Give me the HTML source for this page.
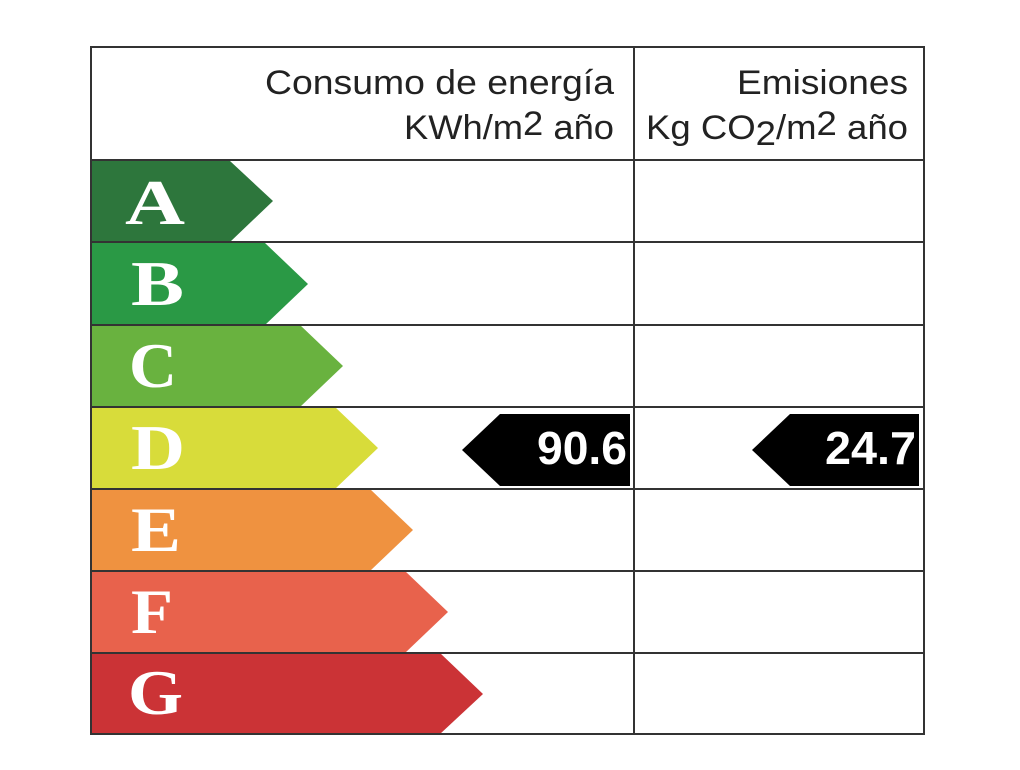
<!DOCTYPE html>
<html><head><style>
body{margin:0;background:#fff;width:1020px;height:765px;overflow:hidden}
</style></head><body>
<svg width="1020" height="765" xmlns="http://www.w3.org/2000/svg">
<rect width="1020" height="765" fill="#fff"/>
<g font-family="Liberation Serif, serif" font-weight="bold" font-size="64" fill="#fff" lengthAdjust="spacingAndGlyphs">
<polygon points="91,161 230,161 273,201 230,242 91,242" fill="#2d763c"/>
<polygon points="91,243 265,243 308,284 265,325 91,325" fill="#2a9945"/>
<polygon points="91,325 300,325 343,366 300,407 91,407" fill="#69b23f"/>
<polygon points="91,407 335,407 378,448 335,489 91,489" fill="#d8dc3a"/>
<polygon points="91,489 370,489 413,530 370,571 91,571" fill="#ef9240"/>
<polygon points="91,571 405,571 448,612 405,653 91,653" fill="#e8624c"/>
<polygon points="91,653 440,653 483,694 440,734 91,734" fill="#cb3336"/>
<text x="125" y="224" textLength="60" lengthAdjust="spacingAndGlyphs">A</text>
<text x="131" y="305" textLength="53" lengthAdjust="spacingAndGlyphs">B</text>
<text x="129" y="387" textLength="48" lengthAdjust="spacingAndGlyphs">C</text>
<text x="131" y="469" textLength="54" lengthAdjust="spacingAndGlyphs">D</text>
<text x="131" y="551" textLength="50" lengthAdjust="spacingAndGlyphs">E</text>
<text x="131" y="633" textLength="42" lengthAdjust="spacingAndGlyphs">F</text>
<text x="128" y="714" textLength="55" lengthAdjust="spacingAndGlyphs">G</text>
</g>
<g stroke="#333" stroke-width="2" fill="none">
<rect x="91" y="47" width="833" height="687"/>
<line x1="634" y1="47" x2="634" y2="734"/>
<line x1="91" y1="160" x2="924" y2="160"/>
<line x1="91" y1="242" x2="924" y2="242"/>
<line x1="91" y1="325" x2="924" y2="325"/>
<line x1="91" y1="407" x2="924" y2="407"/>
<line x1="91" y1="489" x2="924" y2="489"/>
<line x1="91" y1="571" x2="924" y2="571"/>
<line x1="91" y1="653" x2="924" y2="653"/>
</g>
<polygon points="462,450 500,414 630,414 630,486 500,486" fill="#000"/>
<polygon points="752,450 790,414 919,414 919,486 790,486" fill="#000"/>
<g font-family="Liberation Sans, sans-serif" font-weight="bold" font-size="46" fill="#fff">
<text x="537" y="464" textLength="90" lengthAdjust="spacingAndGlyphs">90.6</text>
<text x="825" y="464" textLength="91" lengthAdjust="spacingAndGlyphs">24.7</text>
</g>
<g font-family="Liberation Sans, sans-serif" font-size="34" fill="#222">
<text x="265" y="94" textLength="349" lengthAdjust="spacingAndGlyphs">Consumo de energía</text>
<text x="404" y="139" textLength="210" lengthAdjust="spacingAndGlyphs">KWh/m<tspan dy="-4">2</tspan><tspan dy="4"> año</tspan></text>
<text x="737" y="94" textLength="171" lengthAdjust="spacingAndGlyphs">Emisiones</text>
<text x="646" y="139" textLength="262" lengthAdjust="spacingAndGlyphs">Kg CO<tspan dy="6">2</tspan><tspan dy="-6">/m</tspan><tspan dy="-4">2</tspan><tspan dy="4"> año</tspan></text>
</g>
</svg>
</body></html>
